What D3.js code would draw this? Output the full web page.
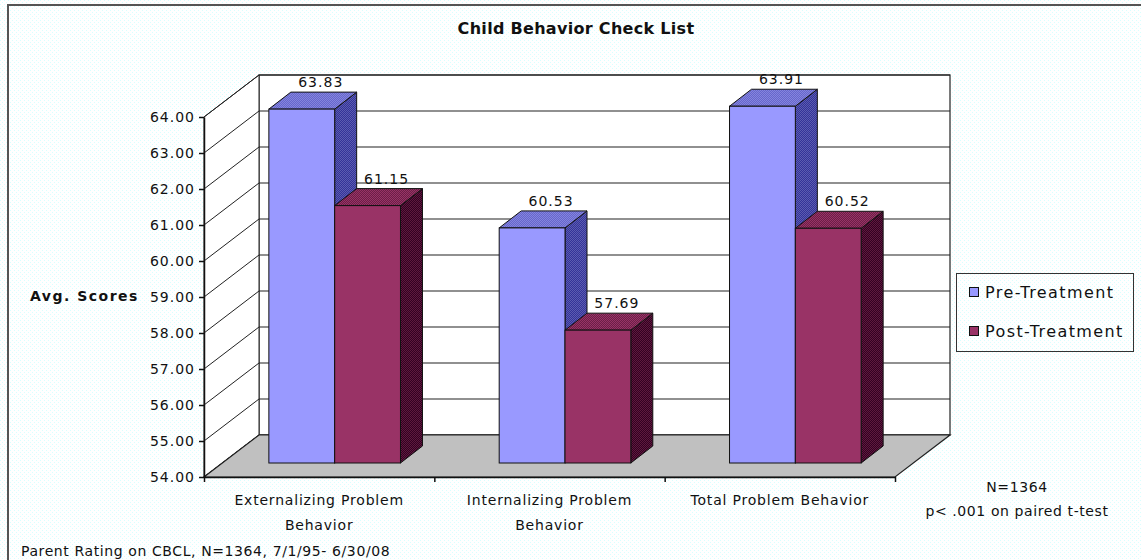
<!DOCTYPE html>
<html>
<head>
<meta charset="utf-8">
<script src="https://cdn.jsdelivr.net/npm/d3@7"></script>
<style>
  body { margin: 0; background: #fff; }
  svg text { font-family: "DejaVu Sans", Verdana, sans-serif; fill: #111; }
</style>
</head>
<body>
<svg id="chart" width="1141" height="560"></svg>
<script>
// chart values
const categories = ["Externalizing Problem Behavior", "Internalizing Problem Behavior", "Total Problem Behavior"];
const seriesNames = ["Pre-Treatment", "Post-Treatment"];
const preValues = [63.83, 60.53, 63.91];
const postValues = [61.15, 57.69, 60.52];
const yTicks = [54, 55, 56, 57, 58, 59, 60, 61, 62, 63, 64];
const notes = ["N=1364", "p< .001 on paired t-test"];
const footer = "Parent Rating on CBCL, N=1364, 7/1/95- 6/30/08";

const colors = {
  "Pre-Treatment": { front: "#9999ff", top: ["#6666cc", "#8585dd"], side: ["#333399", "#5c5cb0"] },
  "Post-Treatment": { front: "#993366", top: ["#6b1f47", "#993366"], side: ["#330022", "#5e1a3d"] }
};

const svg = d3.select("#chart");
const defs = svg.append("defs");

// dotted fills, like the old chart renderer
function dotPattern(id, a, b, size) {
  size = size || 2;
  const p = defs.append("pattern").attr("id", id)
    .attr("width", size).attr("height", size).attr("patternUnits", "userSpaceOnUse");
  p.append("rect").attr("width", size).attr("height", size).attr("fill", a);
  p.append("rect").attr("width", 1).attr("height", 1).attr("fill", b);
  p.append("rect").attr("x", size / 2).attr("y", size / 2).attr("width", 1).attr("height", 1).attr("fill", b);
}
dotPattern("bg", "#ffffff", "#d9ffff", 4);
seriesNames.forEach((s, i) => {
  dotPattern("top" + i, colors[s].top[0], colors[s].top[1]);
  dotPattern("side" + i, colors[s].side[0], colors[s].side[1]);
});

svg.append("rect").attr("width", 1141).attr("height", 560).attr("fill", "url(#bg)");
// frame (only left and top edges show)
svg.append("path").attr("d", "M8,560 V5 H1141").attr("fill", "none")
  .attr("stroke", "#555").attr("stroke-width", 2);

// scales
const left = 204, right = 895, bottom = 477;
const depthX = 55, depthY = -42;
const y = d3.scaleLinear().domain([54, 64]).range([bottom, 117]);
const x = d3.scaleBand().domain(categories).range([left, right]);
const xs = d3.scaleBand().domain(seriesNames).range([0, x.bandwidth()]).paddingOuter(0.75);

// walls
const yTop = y(64), yBot = y(54);
const g = svg.append("g");
g.append("rect")
  .attr("x", left + depthX).attr("y", yTop + depthY)
  .attr("width", right - left).attr("height", yBot - yTop)
  .attr("fill", "#fff").attr("stroke", "#222").attr("stroke-width", 1.2);
g.append("path")
  .attr("d", `M${left},${yBot} V${yTop} L${left + depthX},${yTop + depthY} V${yBot + depthY} Z`)
  .attr("fill", "#fff").attr("stroke", "#222").attr("stroke-width", 1);

// grid lines on back wall and side wall
g.selectAll("line.grid").data(yTicks).join("line").attr("class", "grid")
  .attr("x1", left + depthX).attr("x2", right + depthX)
  .attr("y1", d => y(d) + depthY).attr("y2", d => y(d) + depthY)
  .attr("stroke", "#222").attr("stroke-width", 1.2);
g.selectAll("line.slant").data(yTicks).join("line").attr("class", "slant")
  .attr("x1", left).attr("y1", d => y(d))
  .attr("x2", left + depthX).attr("y2", d => y(d) + depthY)
  .attr("stroke", "#222").attr("stroke-width", 1);

// floor
g.append("path")
  .attr("d", `M${left},${bottom} H${right} L${right + depthX},${bottom + depthY} H${left + depthX} Z`)
  .attr("fill", "#c0c0c0").attr("stroke", "#222").attr("stroke-width", 1.2);

// bars (3d boxes)
const barOffX = 15.5, barOffY = -14;
const boxX = 22, boxY = -17;
const bars = [];
categories.forEach((c, i) => {
  [preValues[i], postValues[i]].forEach((v, j) => {
    bars.push({ cat: c, series: seriesNames[j], idx: j, value: v });
  });
});

const barG = svg.append("g").selectAll("g").data(bars).join("g");
barG.each(function(d) {
  const el = d3.select(this);
  const x0 = x(d.cat) + xs(d.series) + barOffX;
  const x1 = x0 + xs.bandwidth();
  const y0 = y(d.value) + barOffY;
  const y1 = y(54) + barOffY;
  el.append("path") // side
    .attr("d", `M${x1},${y1} V${y0} L${x1 + boxX},${y0 + boxY} V${y1 + boxY} Z`)
    .attr("fill", `url(#side${d.idx})`).attr("stroke", "#111").attr("stroke-width", 1);
  el.append("path") // top
    .attr("d", `M${x0},${y0} H${x1} L${x1 + boxX},${y0 + boxY} H${x0 + boxX} Z`)
    .attr("fill", `url(#top${d.idx})`).attr("stroke", "#111").attr("stroke-width", 1);
  el.append("rect") // front
    .attr("x", x0).attr("y", y0).attr("width", x1 - x0).attr("height", y1 - y0)
    .attr("fill", colors[d.series].front).attr("stroke", "#111").attr("stroke-width", 1);
  el.append("text")
    .attr("x", (x0 + x1) / 2 + 19).attr("y", y0 + boxY - 5)
    .attr("text-anchor", "middle").style("font-size", "14px").style("letter-spacing", "1px")
    .text(d3.format(".2f")(d.value));
});

// axes
const yAxis = d3.axisLeft(y).tickValues(yTicks).tickFormat(d3.format(".2f")).tickSize(5).tickSizeOuter(0).tickPadding(4);
const gy = svg.append("g").attr("transform", `translate(${left},0)`).call(yAxis);
gy.select(".domain").attr("stroke", "#111").attr("stroke-width", 1.5);
gy.selectAll(".tick line").attr("stroke", "#111").attr("stroke-width", 1.5);
gy.selectAll(".tick text").style("font-family", "DejaVu Sans").style("font-size", "14px")
  .style("letter-spacing", "1px").attr("fill", "#111");

const xi = d3.scaleLinear().domain([0, categories.length]).range([left, right]);
const xAxis = d3.axisBottom(xi).tickValues(d3.range(categories.length + 1)).tickFormat("").tickSize(5).tickSizeOuter(0);
const gx = svg.append("g").attr("transform", `translate(0,${bottom})`).call(xAxis);
gx.select(".domain").attr("stroke", "#111").attr("stroke-width", 1.5);
gx.selectAll(".tick line").attr("stroke", "#111").attr("stroke-width", 1.5);

// category labels, wrapped
function wrap(text, width) {
  text.each(function() {
    const t = d3.select(this);
    const words = t.text().split(" ");
    const cx = t.attr("x");
    let line = [];
    let tspan = t.text(null).append("tspan").attr("x", cx).attr("dy", 0);
    words.forEach(w => {
      line.push(w);
      tspan.text(line.join(" "));
      if (tspan.node().getComputedTextLength() > width && line.length > 1) {
        line.pop();
        tspan.text(line.join(" "));
        line = [w];
        tspan = t.append("tspan").attr("x", cx).attr("dy", 25).text(w);
      }
    });
  });
}
svg.append("g").selectAll("text").data(categories).join("text")
  .attr("x", d => x(d) + x.bandwidth() / 2).attr("y", 505)
  .attr("text-anchor", "middle").style("font-size", "14px").style("letter-spacing", "0.8px")
  .text(d => d)
  .call(wrap, 200);

// titles
svg.append("text").attr("x", 576).attr("y", 34).attr("text-anchor", "middle")
  .style("font-size", "16px").style("font-weight", "bold").style("letter-spacing", "0.3px")
  .text("Child Behavior Check List");
svg.append("text").attr("x", 30).attr("y", 301)
  .style("font-size", "14px").style("font-weight", "bold").style("letter-spacing", "1.5px").text("Avg. Scores");

// legend
const lg = svg.append("g");
lg.append("rect").attr("x", 956.5).attr("y", 273.5).attr("width", 177).attr("height", 78)
  .attr("fill", "url(#bg)").attr("stroke", "#333").attr("stroke-width", 1);
const li = lg.selectAll("g.item").data(seriesNames).join("g").attr("class", "item")
  .attr("transform", (d, i) => `translate(969,${292 + i * 39})`);
li.append("rect").attr("x", 0.5).attr("y", -4.5).attr("width", 9).attr("height", 9)
  .attr("fill", d => colors[d].front).attr("stroke", "#111");
li.append("text").attr("x", 16).attr("y", 6)
  .style("font-size", "16px").style("letter-spacing", "1.4px").text(d => d);

// notes
svg.append("g").selectAll("text").data(notes).join("text")
  .attr("x", 1017).attr("y", (d, i) => 492 + i * 24).attr("text-anchor", "middle")
  .style("font-size", "14px").style("letter-spacing", "0.6px").text(d => d);
svg.append("text").attr("x", 21).attr("y", 556)
  .style("font-size", "14px").style("letter-spacing", "0.6px").text(footer);
</script>
</body>
</html>
